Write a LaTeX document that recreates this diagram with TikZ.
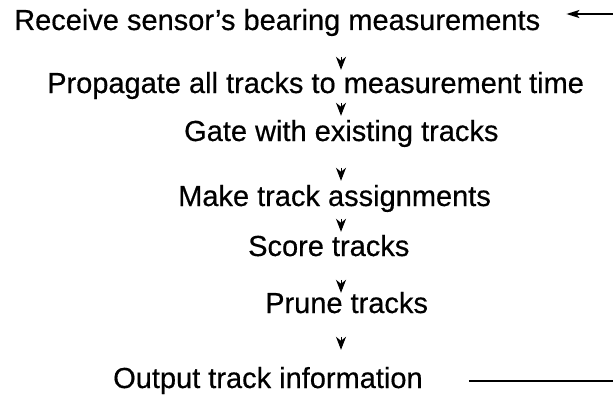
\documentclass[tikz,border=0pt]{standalone}
\usepackage{fontspec}
\setmainfont{Liberation Sans}[UprightFeatures={FakeBold=0.5}]
\usetikzlibrary{arrows.meta,calc}
\begin{document}
\begin{tikzpicture}[x=1pt,y=1pt,
  stage/.style={anchor=base west, inner sep=0pt, text height=21pt, text depth=6pt,
                font=\fontsize{29}{34}\selectfont},
  flow/.style={-{Stealth[length=13pt,width=10pt,inset=4pt]}, line width=1pt},
  feedback/.style={-{Stealth[length=13pt,width=8pt,inset=3pt]}, line width=1.4pt},
  loopline/.style={line width=1.8pt}]
\useasboundingbox (0,0) rectangle (613,-396);

% vertical axis that the step arrows sit on
\coordinate (axis) at (341,0);
% ends of the feedback loop at the right margin
\coordinate (loopin) at (613,-14);
\coordinate (loopout) at (613,-381);

% processing steps
\node[stage] (recv)  at (14,-30)  {Receive sensor’s bearing measurements};
\node[stage] (prop)  at (47,-93)  {Propagate all tracks to measurement time};
\node[stage] (gate)  at (184,-141) {Gate with existing tracks};
\node[stage] (assign) at (178,-206) {Make track assignments};
\node[stage] (score) at (248,-256) {Score tracks};
\node[stage] (prune) at (265,-313) {Prune tracks};
\node[stage] (out)   at (113,-388) {Output track information};

% step-to-step arrowheads
\draw[flow] ($(axis |- prop.north)+(0,15)$)   -- ($(axis |- prop.north)+(0,2)$);
\draw[flow] ($(axis |- gate.north)+(0,17)$)   -- ($(axis |- gate.north)+(0,4)$);
\draw[flow] ($(axis |- assign.north)+(0,17)$) -- ($(axis |- assign.north)+(0,4)$);
\draw[flow] ($(axis |- score.north)+(0,16)$)  -- ($(axis |- score.north)+(0,3)$);
\draw[flow] ($(axis |- prune.north)+(0,12)$)  -- ($(axis |- prune.north)+(0,-1)$);
\draw[flow] ($(axis |- out.north)+(0,30)$)    -- ($(axis |- out.north)+(0,17)$);

% feedback loop ends
\draw[feedback] (loopin) -- ($(recv.base east)+(26,16)$);
\draw[loopline] ($(out.base east)+(46,7)$) -- (loopout);
\end{tikzpicture}
\end{document}
